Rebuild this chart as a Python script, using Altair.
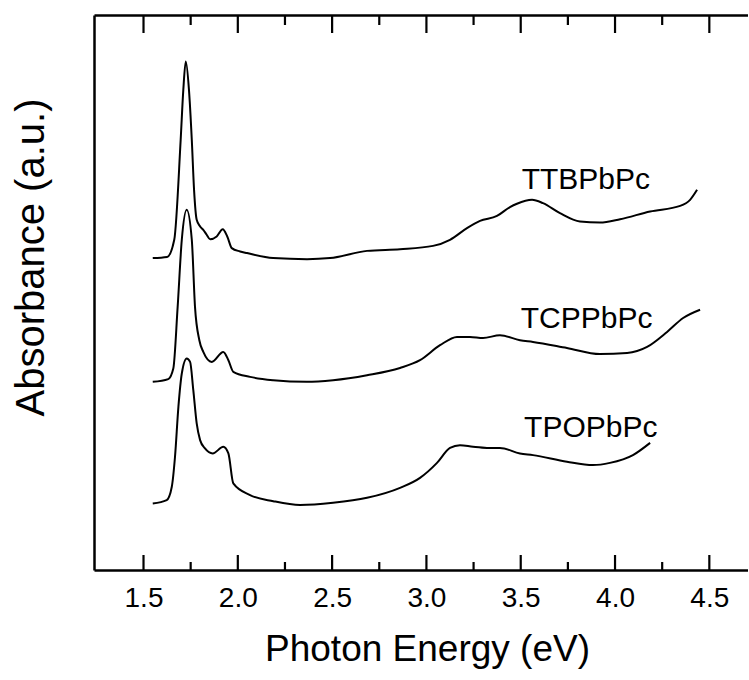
import altair as alt
import pandas as pd

# ---- data (photon energy in eV, absorbance in a.u., curves offset) ----
ttb_energy = [1.549, 1.625, 1.663, 1.697, 1.711, 1.724, 1.741, 1.756, 1.768, 1.782, 1.800,
              1.817, 1.835, 1.853, 1.888, 1.920, 1.944, 1.968, 2.012, 2.049, 2.187, 2.367,
              2.489, 2.685, 2.860, 3.035, 3.125, 3.215, 3.284, 3.374, 3.443, 3.480, 3.560,
              3.618, 3.708, 3.814, 3.920, 4.027, 4.186, 4.345, 4.398, 4.435]
ttb_abs = [5.62, 5.64, 5.95, 7.75, 8.65, 9.16, 8.65, 7.75, 6.85, 6.31, 6.19,
           6.13, 6.04, 5.96, 6.01, 6.14, 6.01, 5.80, 5.74, 5.71, 5.62, 5.60,
           5.62, 5.75, 5.78, 5.84, 5.95, 6.16, 6.29, 6.38, 6.54, 6.60, 6.67,
           6.61, 6.43, 6.28, 6.26, 6.32, 6.46, 6.56, 6.67, 6.85]

tcp_energy = [1.549, 1.631, 1.658, 1.681, 1.703, 1.729, 1.756, 1.773, 1.796, 1.817, 1.862,
              1.923, 1.950, 1.976, 2.065, 2.188, 2.365, 2.505, 2.685, 2.860, 2.966, 3.072,
              3.162, 3.231, 3.300, 3.390, 3.496, 3.565, 3.745, 3.920, 4.064, 4.170, 4.276,
              4.361, 4.451]
tcp_abs = [3.39, 3.44, 3.63, 4.74, 5.95, 6.49, 5.95, 4.74, 4.14, 3.93, 3.75,
           3.93, 3.78, 3.57, 3.48, 3.42, 3.39, 3.42, 3.51, 3.64, 3.78, 4.05,
           4.20, 4.20, 4.18, 4.23, 4.14, 4.11, 4.00, 3.89, 3.91, 4.02, 4.29,
           4.54, 4.69]

tpo_energy = [1.549, 1.623, 1.650, 1.667, 1.685, 1.703, 1.729, 1.747, 1.764, 1.782, 1.800,
              1.826, 1.867, 1.923, 1.950, 1.976, 2.065, 2.188, 2.330, 2.505, 2.685, 2.860,
              2.966, 3.056, 3.125, 3.178, 3.247, 3.321, 3.390, 3.496, 3.565, 3.745, 3.883,
              3.973, 4.095, 4.186]
tpo_abs = [1.20, 1.26, 1.50, 2.04, 2.94, 3.54, 3.81, 3.75, 3.24, 2.64, 2.34,
           2.19, 2.10, 2.22, 2.10, 1.56, 1.35, 1.24, 1.17, 1.21, 1.30, 1.48,
           1.66, 1.93, 2.20, 2.25, 2.22, 2.20, 2.20, 2.10, 2.07, 1.95, 1.89,
           1.93, 2.07, 2.29]

label_names = ["TTBPbPc", "TCPPbPc", "TPOPbPc"]
label_energy = [3.505, 3.500, 3.518]
label_abs = [6.87, 4.36, 2.40]

major_ticks = [1.5, 2.0, 2.5, 3.0, 3.5, 4.0, 4.5]
minor_ticks = [1.75, 2.25, 2.75, 3.25, 3.75, 4.25]

X_DOMAIN = [1.2375, 4.705]
Y_DOMAIN = [0, 10]
W, H = 654, 555
FONT = "Liberation Sans"

rows = []
for name, xs, ys in [("TTBPbPc", ttb_energy, ttb_abs),
                     ("TCPPbPc", tcp_energy, tcp_abs),
                     ("TPOPbPc", tpo_energy, tpo_abs)]:
    for x, y in zip(xs, ys):
        rows.append({"sample": name, "energy": x, "absorbance": y})
df = pd.DataFrame(rows)
labels_df = pd.DataFrame({"name": label_names, "energy": label_energy, "absorbance": label_abs})

# inward tick marks as two-point segments (lengths in pixels, converted to the y unit)
px = (Y_DOMAIN[1] - Y_DOMAIN[0]) / H
tick_rows = []
k = 0
for values, top_len, bot_len in [(major_ticks, 18, 15), (minor_ticks, 10, 8)]:
    for v in values:
        for edge, end in [(Y_DOMAIN[1], Y_DOMAIN[1] - top_len * px),
                          (Y_DOMAIN[0], Y_DOMAIN[0] + bot_len * px)]:
            tick_rows.append({"tick": f"t{k}", "order": 0, "energy": v, "absorbance": edge})
            tick_rows.append({"tick": f"t{k}", "order": 1, "energy": v, "absorbance": end})
            k += 1
ticks_df = pd.DataFrame(tick_rows)

xscale = alt.Scale(domain=X_DOMAIN, nice=False, zero=False)
yscale = alt.Scale(domain=Y_DOMAIN, nice=False, zero=False)

ticks = alt.Chart(ticks_df).mark_line(color="black", strokeWidth=2.2).encode(
    x=alt.X("energy:Q", scale=xscale,
            axis=alt.Axis(orient="top", labels=False, ticks=False, grid=False, title=None,
                          domain=True, domainColor="black", domainWidth=2.5)),
    y=alt.Y("absorbance:Q", scale=yscale, axis=None),
    detail="tick:N",
    order="order:Q",
)

curves = alt.Chart(df).mark_line(color="black", strokeWidth=2, interpolate="monotone").encode(
    x=alt.X("energy:Q", scale=xscale,
            axis=alt.Axis(orient="bottom", values=major_ticks, format=".1f", ticks=False, tickSize=0,
                          grid=False, labelFont=FONT, labelFontSize=28, labelPadding=14,
                          labelColor="black", labelFlush=False, labelOverlap=False,
                          domainColor="black", domainWidth=2.5,
                          title="Photon Energy (eV)", titleFont=FONT, titleFontSize=37,
                          titleFontWeight="normal", titleColor="black",
                          titleX=333, titleY=90, titleBaseline="alphabetic", titleAlign="center")),
    y=alt.Y("absorbance:Q", scale=yscale,
            axis=alt.Axis(orient="left", labels=False, ticks=False, grid=False,
                          domainColor="black", domainWidth=2.5,
                          title="Absorbance (a.u.)", titleFont=FONT, titleFontSize=40,
                          titleFontWeight="normal", titleColor="black",
                          titleX=-51, titleY=242, titleAngle=270,
                          titleBaseline="alphabetic", titleAlign="center")),
    detail="sample:N",
)

texts = alt.Chart(labels_df).mark_text(align="left", baseline="alphabetic", font=FONT,
                                       fontSize=30, color="black").encode(
    x=alt.X("energy:Q", scale=xscale, axis=None),
    y=alt.Y("absorbance:Q", scale=yscale, axis=None),
    text="name:N",
)

chart = alt.layer(ticks, curves, texts).resolve_axis(
    x="independent", y="independent"
).properties(
    width=W, height=H,
    padding={"left": 94, "top": 15, "right": 0, "bottom": 110},
    autosize=alt.AutoSizeParams(type="none"),
    background="white",
).configure_view(stroke=None)

chart.save("out.html", embed_options={"renderer": "svg", "actions": False})
